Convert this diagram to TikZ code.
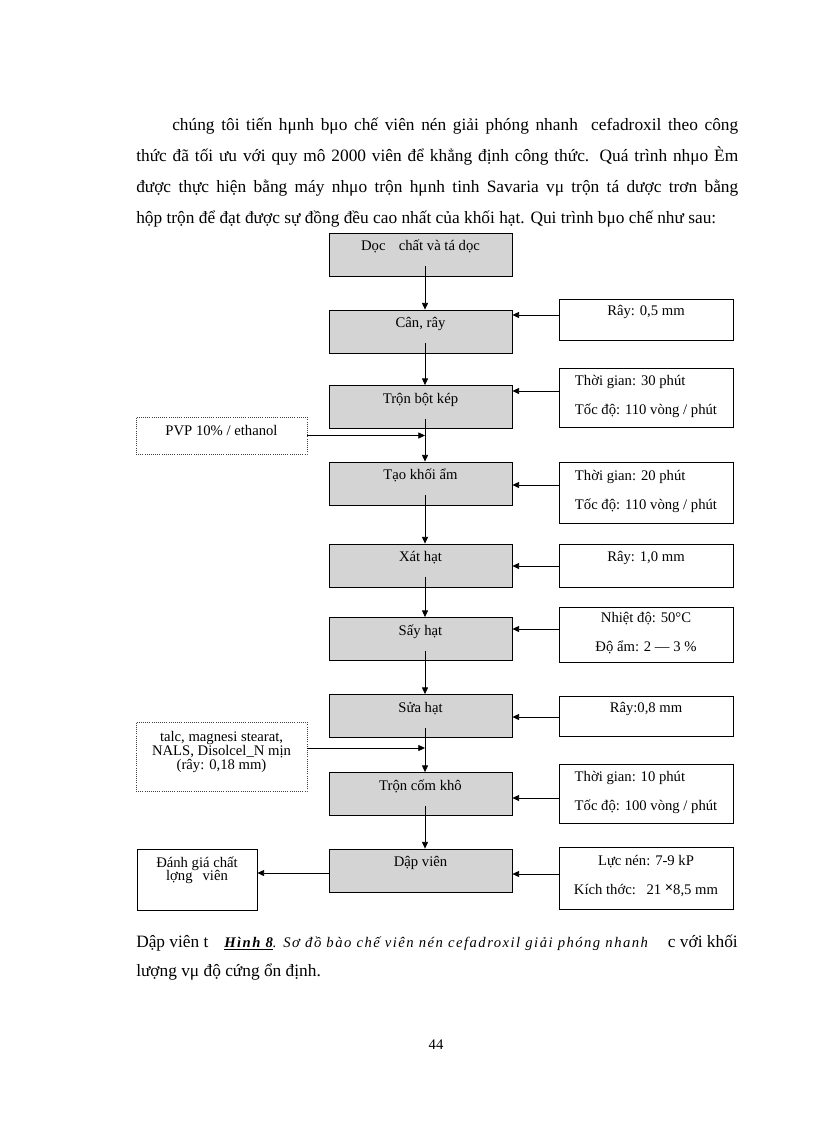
\documentclass[tikz,border=0pt]{standalone}
\usepackage{fontspec}
\setmainfont{Liberation Serif}
\usetikzlibrary{arrows.meta,positioning,calc}
\setlength{\lineskiplimit}{-20pt}
\newcommand{\topln}{\rule{0pt}{9pt}}
\newcommand{\botln}[1]{\rule[-#1]{0pt}{#1}}

\begin{document}
\begin{tikzpicture}[x=0.75pt,y=-0.75pt,
  stage/.style={draw,line width=0.6pt,fill=black!17,minimum width=137.25pt,minimum height=32.25pt,inner ysep=2pt,text height=9pt,text depth=15pt,font=\fontsize{11}{13}\selectfont},
  cond/.style={draw,line width=0.6pt,minimum width=130.5pt,inner ysep=2pt,font=\fontsize{11}{21.75}\selectfont},
  single/.style={text height=9pt,text depth=15pt},
  feed/.style={draw=black!75,densely dotted,line width=0.6pt,minimum width=128.25pt,inner ysep=2pt},
  flow/.style={-{Triangle[length=5pt,width=4.5pt]},line width=0.6pt}]
\path[fill=white,use as bounding box] (0,0) rectangle (816,1123);

% Paragraph
\node[anchor=north west,inner sep=0pt,text width=451.5pt,align=justify,font=\fontsize{13}{23.25}\selectfont] (para) at (136,113.3)
  {\hspace*{27pt}\rule{0pt}{12.5pt}chúng tôi tiến hμnh bμo chế viên nén giải phóng nhanh\ \ cefadroxil theo công\linebreak
   thức đã tối ưu với quy mô 2000 viên để khẳng định công thức. Quá trình nhμo Èm\linebreak
   được thực hiện bằng máy nhμo trộn hμnh tinh Savaria vμ trộn tá dược trơn bằng\linebreak
   hộp trộn để đạt được sự đồng đều cao nhất của khối hạt. Qui trình bμo chế như sau:};

% Main steps
\foreach \n/\y/\t in {b1/254.5/{Dọc\hspace{10pt}chất và tá dọc}, b2/331.5/{Cân, rây}, b3/407/{Trộn bột kép},
  b4/483.5/{Tạo khối ẩm}, b5/565.5/{Xát hạt}, b6/639/{Sấy hạt}, b7/716/{Sửa hạt},
  b8/794/{Trộn cốm khô}, b9/870.5/{Dập viên}}
  \node[stage] (\n) at (420.5,\y) {\t};

% Conditions
\node[cond,single,minimum height=30.75pt] (r1) at (646,319.5) {Rây: 0,5 mm};
\node[cond,align=left,minimum height=44.25pt] (r2) at (646,397.5) {\topln Thời gian: 30 phút\\Tốc độ: 110 vòng / phút\botln{6pt}};
\node[cond,align=left,minimum height=45.75pt] (r3) at (646,492.5) {\topln Thời gian: 20 phút\\Tốc độ: 110 vòng / phút\botln{6pt}};
\node[cond,single,minimum height=32.25pt] (r4) at (646,565.5) {Rây: 1,0 mm};
\node[cond,align=center,minimum height=41.25pt] (r5) at (646,634.5) {\topln Nhiệt độ: 50°C\\Độ ẩm: 2 — 3 \%\botln{6pt}};
\node[cond,single,minimum height=30pt] (r6) at (646,716) {Rây:0,8 mm};
\node[cond,align=left,minimum height=44.25pt] (r7) at (646,793.5) {\topln Thời gian: 10 phút\\Tốc độ: 100 vòng / phút\botln{6pt}};
\node[cond,align=center,minimum height=46.5pt] (r8) at (646,878) {\topln Lực nén: 7-9 kP\\Kích thớc:\hspace{8pt}21 \raisebox{1.5pt}{\textbf{×}}8,5 mm\botln{6pt}};

% Added materials and output
\node[feed,text height=9pt,text depth=9pt,minimum height=27.75pt,font=\fontsize{11}{13}\selectfont] (pvp) at (221.5,435.5) {PVP 10\% / ethanol};
\node[feed,align=center,minimum height=51.75pt,font=\fontsize{11}{10.5}\selectfont] (lub) at (221.5,756.5)
  {\topln talc, magnesi stearat,\\NALS, Disolcel\_N mịn\\(rây: 0,18 mm)\botln{11.25pt}};
\node[draw,line width=0.6pt,align=center,minimum width=90pt,minimum height=45.75pt,inner ysep=2pt,font=\fontsize{11}{10}\selectfont] (eval) at (197,879.5)
  {\topln Đánh giá chất\\lợng\hspace{7.5pt}viên\botln{17pt}};

% Connectors
\coordinate (spine) at (425,0);
\foreach \a/\b in {b1/b2,b2/b3,b3/b4,b4/b5,b5/b6,b6/b7,b7/b8,b8/b9}
  \draw[flow] ($(\a.south -| spine)+(0,-10)$) -- (\b.north -| spine);
\foreach \r/\b/\d in {r1/b2/-16.5,r2/b3/-16,r3/b4/1.5,r4/b5/0.5,r5/b6/-10,r6/b7/1,r7/b8/4,r8/b9/3.5}{
  \coordinate (tip) at ($(\b.east)+(0,\d)$);
  \draw[flow] (\r.west |- tip) -- (tip);
}
\draw[flow] (pvp.east) -- (pvp.east -| spine);
\coordinate (mix) at ($(lub.east)+(0,-8.5)$);
\draw[flow] (mix) -- (mix -| spine);
\coordinate (out) at ($(b9.west)+(0,2.5)$);
\draw[flow] (out) -- (out -| eval.east);

% Caption
\node[anchor=base west,inner sep=0pt,font=\fontsize{13}{15}\selectfont] (cap1) at (136,947) {Dập viên t};
\node[anchor=base west,inner sep=0pt,font=\itshape\fontsize{11}{13}\selectfont] (cap) at (224,947)
  {\addfontfeature{LetterSpace=10}\underline{\textbf{Hình 8}}. Sơ đồ bào chế viên nén cefadroxil giải phóng nhanh};
\node[anchor=base east,inner sep=0pt,font=\fontsize{13}{15}\selectfont] (cap2) at (738,947) {c với khối};
\node[anchor=base west,inner sep=0pt,font=\fontsize{13}{15}\selectfont] (cap3) at (136,976) {lượng vμ độ cứng ổn định.};
\node[inner sep=0pt,font=\fontsize{11}{13}\selectfont] (page) at (436,1045) {44};
\end{tikzpicture}
\end{document}
